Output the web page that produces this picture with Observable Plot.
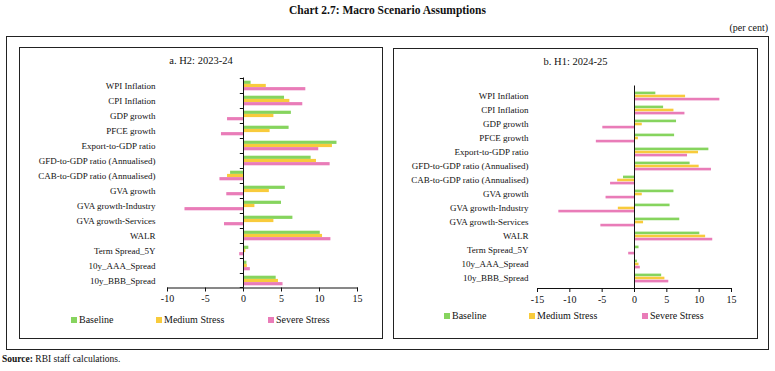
<!DOCTYPE html>
<html>
<head>
<meta charset="utf-8">
<script src="https://cdn.jsdelivr.net/npm/d3@7"></script>
<script src="https://cdn.jsdelivr.net/npm/@observablehq/plot@0.6"></script>
<style>
  html, body { margin: 0; padding: 0; background: #fff; }
  body { width: 775px; height: 371px; position: relative; overflow: hidden; font-family: "Liberation Serif", serif; color: #111; }
  .abs { position: absolute; }
  .box { position: absolute; border: 1px solid #222; box-sizing: border-box; }
  .title { left: 0; width: 775px; top: 4px; text-align: center; font-weight: bold; font-size: 11.5px; }
  .unit { right: 7px; top: 22px; font-size: 10px; }
  .sub { font-size: 10.5px; text-align: center; }
  .leg { font-size: 10px; white-space: nowrap; display: flex; align-items: center; }
  .sw { display: inline-block; width: 6px; height: 6px; margin-right: 2px; }
  .src { left: 2px; top: 354px; font-size: 9.5px; }
</style>
</head>
<body>
<script>
// ---- data ----
const categories = [
  "WPI Inflation", "CPI Inflation", "GDP growth", "PFCE growth", "Export-to-GDP ratio",
  "GFD-to-GDP ratio (Annualised)", "CAB-to-GDP ratio (Annualised)", "GVA growth",
  "GVA growth-Industry", "GVA growth-Services", "WALR", "Term Spread_5Y",
  "10y_AAA_Spread", "10y_BBB_Spread"
];
const series = ["Baseline", "Medium Stress", "Severe Stress"];
const colors = ["#86d45e", "#f8cb3c", "#e97cb8"];

// Panel a: H2 2023-24
const h2Baseline = [1.0, 5.4, 6.3, 6.0, 12.3, 8.9, -1.7, 5.5, 5.0, 6.5, 10.1, 0.7, 0.45, 4.3];
const h2Medium   = [3.0, 6.1, 4.0, 3.5, 11.7, 9.6, -2.1, 3.4, 1.5, 4.0, 10.4, 0.3, 0.5, 4.6];
const h2Severe   = [8.2, 7.8, -2.1, -2.9, 9.9, 11.4, -3.1, -2.2, -7.7, -2.5, 11.5, -0.5, 0.9, 5.2];
// Panel b: H1 2024-25
const h1Baseline = [3.3, 4.5, 6.5, 6.2, 11.5, 8.6, -1.7, 6.1, 5.5, 7.0, 10.1, 0.7, 0.45, 4.2];
const h1Medium   = [7.9, 6.1, 1.2, 0.6, 9.9, 10.0, -2.6, 1.2, -2.5, 1.4, 11.0, 0.0, 0.7, 4.7];
const h1Severe   = [13.2, 7.8, -4.9, -5.9, 8.2, 11.9, -3.7, -4.4, -11.7, -5.2, 12.1, -0.9, 0.9, 5.3];

const h2Ticks = [-10, -5, 0, 5, 10, 15];
const h1Ticks = [-15, -10, -5, 0, 5, 10, 15];

const titleText = "Chart 2.7: Macro Scenario Assumptions";
const unitText = "(per cent)";
const panelA = "a. H2: 2023-24";
const panelB = "b. H1: 2024-25";

// ---- helpers ----
function el(cls, css, html) {
  const d = document.createElement("div");
  d.className = cls;
  Object.assign(d.style, css);
  if (html != null) d.innerHTML = html;
  document.body.appendChild(d);
  return d;
}

function makePanel(values, ticks, opt) {
  const rows = [];
  series.forEach((s, i) => categories.forEach((c, j) => rows.push({category: c, series: s, value: values[i][j]})));
  const inner = opt.height - opt.marginTop - opt.marginBottom;
  const h = inner / categories.length;
  const pad = 0.18 * h;
  const bw = (h - 2 * pad) / 3;
  const marks = series.map((s, i) => Plot.barX(rows.filter(d => d.series === s), {
    x: "value", y: "category", fill: colors[i],
    insetTop: pad + i * bw, insetBottom: h - pad - (i + 1) * bw
  }));
  if (opt.yTicks) {
    marks.push(Plot.barX(categories, {x1: -0.42, x2: 0, y: d => d, fill: "#111", insetBottom: h - 1}));
    marks.push(Plot.barX([categories[categories.length - 1]], {x1: -0.42, x2: 0, y: d => d, fill: "#111", insetTop: h - 1}));
  }
  marks.push(Plot.ruleX([0], {stroke: "#111", strokeWidth: 1}));
  marks.push(Plot.frame({anchor: "bottom", stroke: "#111"}));
  marks.push(Plot.axisX({ticks, tickSize: 4, tickFormat: d => String(d), fontSize: 10, tickPadding: 3, label: null}));
  marks.push(Plot.axisY({tickSize: 0, tickPadding: opt.labelPad, fontSize: 9, textAnchor: "end", label: null}));
  const svg = Plot.plot({
    width: opt.width, height: opt.height,
    marginLeft: opt.marginLeft, marginRight: opt.marginRight,
    marginTop: opt.marginTop, marginBottom: opt.marginBottom,
    x: {domain: [ticks[0], ticks[ticks.length - 1]], label: null},
    y: {domain: categories, padding: 0, label: null},
    style: {fontFamily: "Liberation Serif", color: "#111", background: "transparent", overflow: "visible"},
    marks
  });
  svg.style.position = "absolute";
  svg.style.left = opt.left + "px";
  svg.style.top = opt.top + "px";
  document.body.appendChild(svg);
}

function makeLegend(xs, y) {
  series.forEach((s, i) => {
    el("abs leg", {left: xs[i] + "px", top: y + "px"},
      `<span class="sw" style="background:${colors[i]}"></span>${s}`);
  });
}

// ---- layout ----
el("abs title", {}, titleText);
el("abs unit", {}, unitText);
el("box", {left: "6px", top: "36px", width: "763px", height: "314px"});
el("box", {left: "19px", top: "47px", width: "364px", height: "292px"});
el("box", {left: "393px", top: "48px", width: "365px", height: "291px"});
el("abs sub", {left: "19px", width: "364px", top: "55px"}, panelA);
el("abs sub", {left: "393px", width: "365px", top: "56px"}, panelB);

makePanel([h2Baseline, h2Medium, h2Severe], h2Ticks, {
  left: 19, top: 70, width: 363, height: 240,
  marginLeft: 148, marginRight: 25, marginTop: 7.5, marginBottom: 22.5, labelPad: 12, yTicks: true
});
makePanel([h1Baseline, h1Medium, h1Severe], h1Ticks, {
  left: 393, top: 78, width: 364, height: 232,
  marginLeft: 144, marginRight: 26, marginTop: 7.5, marginBottom: 22, labelPad: 9, yTicks: false
});

makeLegend([71, 156, 268], 314);
makeLegend([444, 529, 642], 310);

el("abs src", {}, "<b>Source:</b> RBI staff calculations.");
</script>
</body>
</html>
